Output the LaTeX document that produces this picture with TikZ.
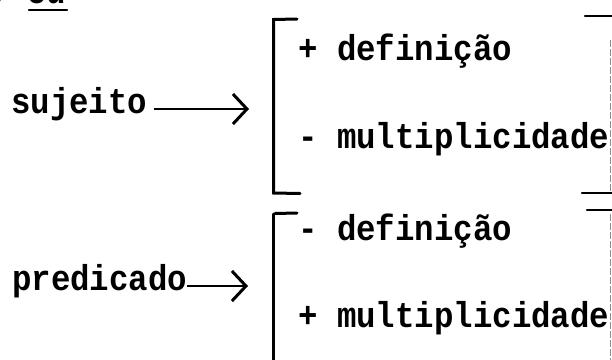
\documentclass[tikz,border=0pt]{standalone}
\usepackage{fontspec}
\newfontfamily\tw{Liberation Mono}[FakeStretch=0.9]
\usetikzlibrary{arrows.meta}
\begin{document}
\begin{tikzpicture}[x=1pt,y=-1pt,
  lbl/.style={font=\tw\bfseries\fontsize{36}{44}\selectfont, anchor=base west, inner sep=0pt},
  brk/.style={line width=3pt, line cap=round},
  rulemark/.style={line width=2.5pt, line cap=round},
  arr/.style={line width=2.2pt, -{Straight Barb[length=14pt,width=30pt,line width=3pt]}},
  faint/.style={black!45, line width=1.2pt, dash pattern=on 7pt off 2pt}]
\useasboundingbox (0,0) rectangle (612,359);

% fragments of the line above
\node[lbl] (comma) at (-8,-2) {,};
\node[lbl] (ou) at (27,3) {ou};
\draw[rulemark] (29,10) -- (67,10);

% left column
\node[lbl] (sujeito) at (11,113) {sujeito};
\node[lbl] (predicado) at (12,290) {predicado};

% arrow tips
\coordinate (sjtip) at (249,109);
\coordinate (prtip) at (248,286);
\draw[arr, shorten <=6pt] (sujeito.east |- sjtip) -- (sjtip);
\draw[arr] (predicado.east |- prtip) -- (prtip);

% first bracket and its items
\node[lbl] (def1) at (298,60) {+ definição};
\node[lbl] (mul1) at (298,148) {- multiplicidade};
\draw[brk] (297,19) -- (273.5,19.5) -- (273.5,193) -- (300,193.5);

% second bracket and its items
\node[lbl] (def2) at (298,240) {- definição};
\node[lbl] (mul2) at (298,327) {+ multiplicidade};
\draw[brk] (297,213) -- (275,213.5);
\draw[brk] (273.5,214) -- (273.5,362);

% right-hand side
\draw[rulemark] (585,16) -- (614,16);
\draw[rulemark] (582,193) -- (614,193);
\draw[rulemark] (587,210) -- (614,210);
\draw[faint] (610.5,40) -- (610.5,192);
\draw[faint] (610.5,214) -- (610.5,362);
\end{tikzpicture}
\end{document}
